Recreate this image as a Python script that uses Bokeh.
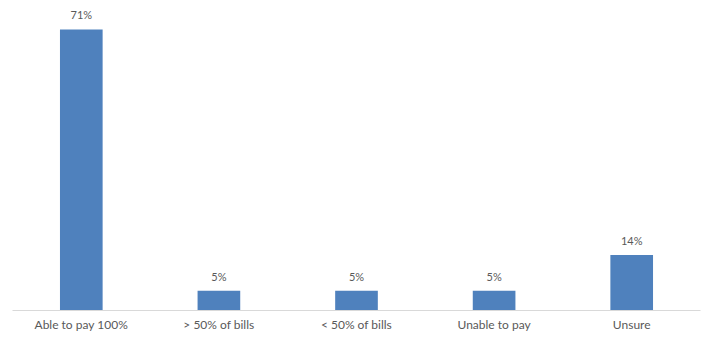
from bokeh.plotting import figure
from bokeh.models import ColumnDataSource, LabelSet, FactorRange, Range1d
from bokeh.core.properties import value
from bokeh.embed import file_html
from bokeh.resources import INLINE

categories = ["Able to pay 100%", "> 50% of bills", "< 50% of bills", "Unable to pay", "Unsure"]
values = [71, 5, 5, 5, 14]
labels = [f"{v}%" for v in values]

src = ColumnDataSource(dict(cat=categories, val=values, lab=labels))

p = figure(x_range=FactorRange(*categories, range_padding=0), y_range=Range1d(0, 78.3),
           width=709, height=339, output_backend="svg", toolbar_location=None,
           min_border_left=12, min_border_right=9, min_border_top=0, min_border_bottom=29)
p.vbar(x="cat", top="val", width=0.31, source=src, color="#4F81BD", line_color=None)
p.add_layout(LabelSet(x="cat", y="val", text="lab", source=src, text_align="center",
                      text_baseline="bottom", y_offset=8, text_font_size="11px",
                      text_font=value("Lato"), text_color="#595959"))
p.yaxis.visible = False
p.grid.visible = False
p.outline_line_color = None
p.xaxis.axis_line_color = "#d9d9d9"
p.xaxis.major_tick_line_color = None
p.xaxis.minor_tick_line_color = None
p.xaxis.major_tick_out = 0
p.xaxis.major_tick_in = 0
p.xaxis.major_label_standoff = 6
p.xaxis.major_label_text_font = "Lato"
p.xaxis.major_label_text_font_size = "12px"
p.xaxis.major_label_text_color = "#595959"

open("out.html", "w").write(file_html(p, INLINE))
